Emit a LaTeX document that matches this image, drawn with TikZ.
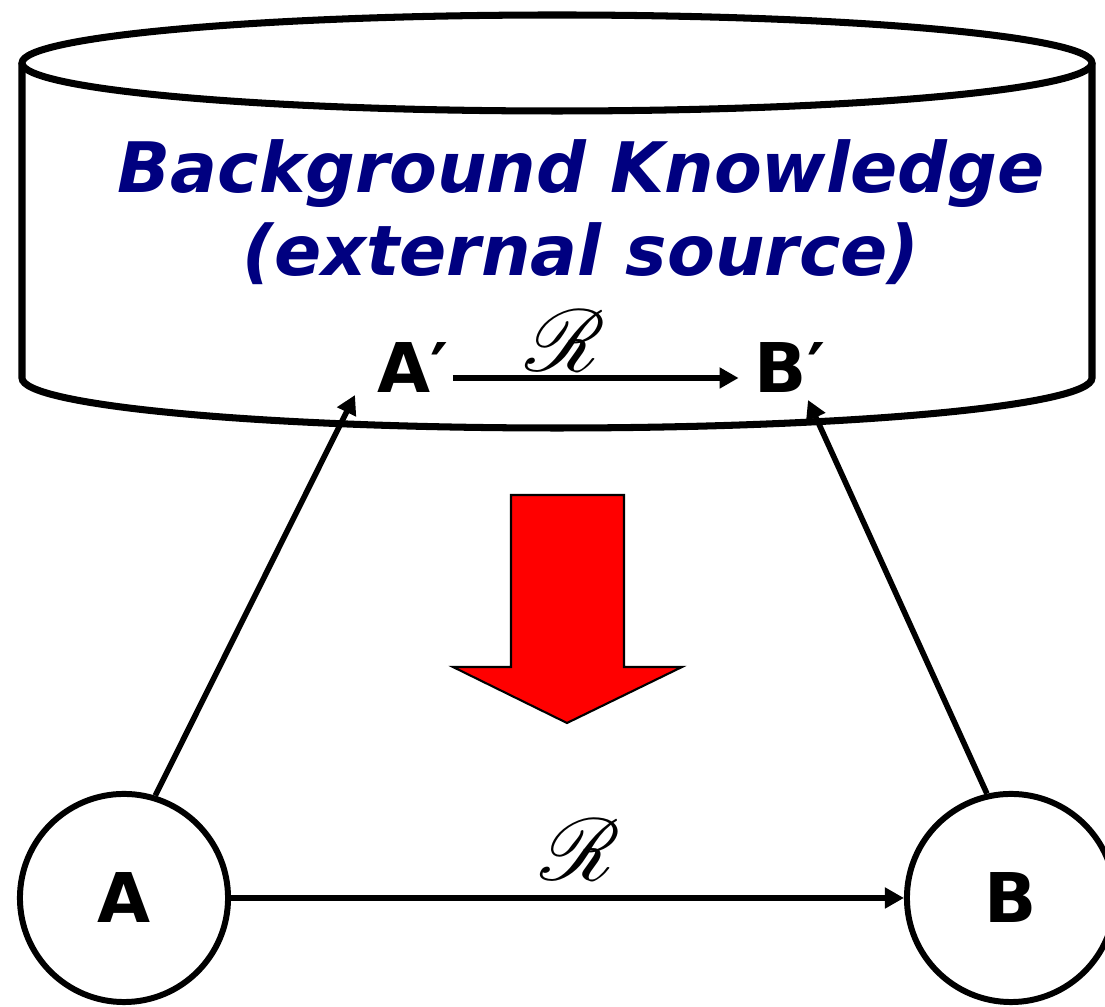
\documentclass[tikz,border=0pt]{standalone}
\usepackage{fontspec}
\usepackage{mathrsfs}
\usetikzlibrary{arrows.meta}
\newfontfamily\dvfont{DejaVu Sans}
\definecolor{navyblue}{HTML}{000080}
\begin{document}
\begin{tikzpicture}[x=0.01cm, y=0.01cm]
    % Styles
    \tikzset{cyl/.style={line width=2pt},
             ent node/.style={circle,draw,line width=1.7pt,minimum size=2.08cm,inner sep=0pt,font=\dvfont\bfseries\fontsize{19.5}{22}\selectfont},
             prime node/.style={inner sep=1pt,font=\dvfont\bfseries\fontsize{19.5}{22}\selectfont},
             rel/.style={line width=1.6pt,-{Triangle[length=1.9mm,width=2mm]}},
             rel label/.style={inner sep=0pt,font=\fontsize{24}{28}\selectfont}}
    \useasboundingbox (0,0) rectangle (1105,-1007);

    % --- Background knowledge store (cylinder) ---
    \draw[cyl] (557,-63) ellipse [x radius=535, y radius=48];
    \draw[cyl] (22,-63) -- (22,-378) arc[start angle=180, end angle=360, x radius=535, y radius=50] -- (1092,-63);
    \node[text=navyblue, inner sep=0pt, font=\dvfont\bfseries\itshape\fontsize{19.8}{23.5}\selectfont, align=center] (title) at (581,-212)
        {Background Knowledge\\(external source)};

    % --- Related concepts in the source ---
    \node[prime node] (aprime) at (413,-368) {A′};
    \node[prime node] (bprime) at (790,-368) {B′};
    \draw[rel, shorten >=1.2mm] ([yshift=-1mm]aprime.east) -- ([yshift=-1mm]bprime.west)
        node[midway, above=0.4mm, rel label, xshift=-3.6mm] {$\mathscr{R}$};

    % --- Transfer arrow ---
    \draw[fill=red, line width=0.6pt] (511,-495) -- (624,-495) -- (624,-667) -- (682,-667) -- (567,-723)
        -- (453,-667) -- (511,-667) -- cycle;

    % --- Entities ---
    \node[ent node] (a) at (124,-898) {A};
    \node[ent node] (b) at (1011,-898) {B};
    \draw[rel] (a) -- (b) node[midway, above=1.5mm, rel label, xshift=1.3mm] {$\mathscr{R}$};

    % Links up to the source
    \coordinate (atop) at (355,-395);
    \coordinate (btop) at (808,-400);
    \draw[rel] (a.73) -- (atop);
    \draw[rel] (b.103) -- (btop);
\end{tikzpicture}
\end{document}
